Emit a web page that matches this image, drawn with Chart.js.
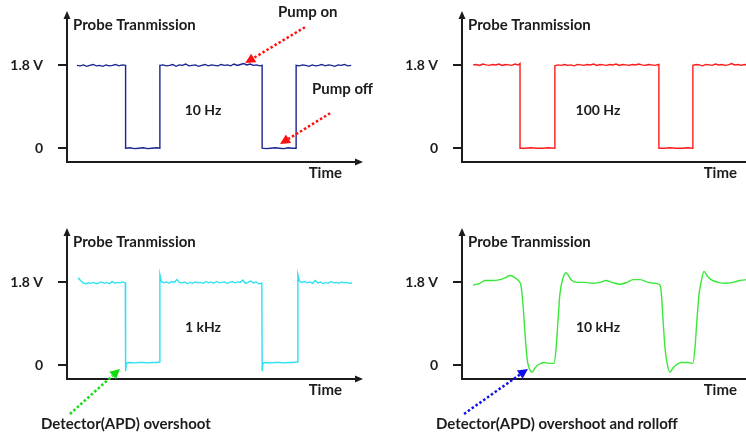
<!DOCTYPE html>
<html>
<head>
<meta charset="utf-8">
<script src="https://cdn.jsdelivr.net/npm/chart.js@4.4.0/dist/chart.umd.min.js"></script>
<style>
  html, body { margin: 0; padding: 0; background: #fff; overflow: hidden; width: 746px; height: 435px; }
  canvas { position: absolute; }
</style>
</head>
<body>
<canvas id="p10Hz" width="373" height="218" style="left:0;top:0"></canvas>
<canvas id="p100Hz" width="400" height="218" style="left:373px;top:0"></canvas>
<canvas id="p1kHz" width="373" height="218" style="left:0;top:217px"></canvas>
<canvas id="p10kHz" width="400" height="218" style="left:373px;top:217px"></canvas>
<script>
// y ticks
const tickValues = [0, 1.8];
const tickLabels = ['0', '1.8 V'];

// [time, volts] (time in arbitrary units 0-100)
const trace10Hz = [
  [3.4,1.80],[4.5,1.79],[5.6,1.81],[6.7,1.78],[7.8,1.80],[8.9,1.82],[10.0,1.79],[11.1,1.80],[12.2,1.78],[13.3,1.81],[14.4,1.79],[15.5,1.80],[16.6,1.82],[17.7,1.79],[18.8,1.81],[20.0,1.80],
  [20.0,0.00],[21.5,0.01],[23.0,-0.01],[24.5,0.00],[26.0,0.01],[27.5,-0.01],[29.0,0.00],[30.5,0.01],[31.7,0.00],
  [31.7,1.80],[32.8,1.81],[33.9,1.79],[35.0,1.80],[36.1,1.82],[37.2,1.78],[38.3,1.81],[39.4,1.80],[40.5,1.83],[41.6,1.79],[42.7,1.80],[43.8,1.81],[44.9,1.78],[46.0,1.80],[47.1,1.82],[48.2,1.79],[49.3,1.81],[50.4,1.80],[51.5,1.79],[52.6,1.82],[53.7,1.80],[54.8,1.81],[55.9,1.79],[57.0,1.83],[58.1,1.80],[59.2,1.82],[60.3,1.84],[61.4,1.81],[62.5,1.83],[63.6,1.80],[64.7,1.81],[65.8,1.79],[66.6,1.80],
  [66.6,0.00],[68.0,-0.01],[69.5,0.00],[71.0,0.01],[72.5,0.00],[74.0,-0.01],[75.5,0.01],[77.0,0.00],[78.2,0.00],
  [78.2,1.80],[79.3,1.79],[80.4,1.81],[81.5,1.80],[82.6,1.78],[83.7,1.81],[84.8,1.79],[85.9,1.80],[87.0,1.82],[88.1,1.79],[89.2,1.81],[90.3,1.80],[91.4,1.78],[92.5,1.81],[93.6,1.80],[94.7,1.82],[95.8,1.79],[97.0,1.80]
];

const trace100Hz = [
  [3.8,1.81],[4.9,1.82],[6.0,1.80],[7.1,1.83],[8.2,1.81],[9.3,1.80],[10.4,1.82],[11.5,1.81],[12.6,1.83],[13.7,1.80],[14.8,1.82],[15.9,1.81],[17.0,1.80],[18.1,1.83],[19.2,1.81],[19.8,1.84],
  [19.8,0.00],[21.5,0.00],[23.5,0.01],[25.5,0.00],[27.5,0.00],[29.5,0.01],[31.7,0.00],
  [31.7,1.79],[32.8,1.81],[33.9,1.80],[35.0,1.82],[36.1,1.80],[37.2,1.81],[38.3,1.79],[39.4,1.82],[40.5,1.81],[41.6,1.80],[42.7,1.82],[43.8,1.81],[44.9,1.83],[46.0,1.80],[47.1,1.82],[48.2,1.81],[49.3,1.80],[50.4,1.82],[51.5,1.81],[52.6,1.83],[53.7,1.80],[54.8,1.82],[55.9,1.81],[57.0,1.80],[58.1,1.82],[59.2,1.81],[60.3,1.83],[61.4,1.81],[62.5,1.80],[63.6,1.82],[64.7,1.81],[65.8,1.80],[67.2,1.82],
  [67.2,0.00],[69.0,0.00],[71.0,0.01],[73.0,0.00],[75.0,0.00],[77.0,0.01],[78.8,0.00],
  [78.8,1.80],[79.9,1.82],[81.0,1.81],[82.1,1.79],[83.2,1.82],[84.3,1.81],[85.4,1.80],[86.5,1.83],[87.6,1.81],[88.7,1.82],[89.8,1.80],[90.9,1.81],[92.0,1.84],[93.1,1.81],[94.2,1.82],[95.3,1.80],[96.4,1.82],[97.5,1.81],[98.6,1.83],[100,1.81]
];

const trace1kHz = [
  [3.8,1.90],[4.6,1.84],[5.5,1.79],[6.4,1.77],[7.3,1.79],[8.2,1.78],[9.1,1.80],[10.0,1.77],[10.9,1.79],[11.8,1.81],[12.7,1.78],[13.6,1.80],[14.5,1.77],[15.4,1.82],[16.3,1.78],[17.2,1.80],[18.1,1.79],[19.0,1.81],[19.9,1.79],
  [20.0,-0.13],[20.3,0.05],[21.5,0.06],[23.0,0.05],[24.5,0.06],[26.0,0.06],[27.5,0.05],[29.0,0.06],[30.5,0.06],[31.6,0.07],
  [31.7,1.97],[32.2,1.82],[33.0,1.79],[33.9,1.81],[34.8,1.78],[35.7,1.82],[36.6,1.80],[37.5,1.86],[38.4,1.80],[39.3,1.79],[40.2,1.81],[41.1,1.77],[42.0,1.80],[42.9,1.78],[43.8,1.81],[44.7,1.79],[45.6,1.80],[46.5,1.78],[47.4,1.82],[48.3,1.79],[49.2,1.81],[50.1,1.78],[51.0,1.82],[51.9,1.79],[52.8,1.80],[53.7,1.81],[54.6,1.78],[55.5,1.80],[56.4,1.82],[57.3,1.79],[58.2,1.81],[59.1,1.80],[60.0,1.85],[60.9,1.78],[61.8,1.80],[62.7,1.83],[63.6,1.79],[64.5,1.81],[65.4,1.77],[66.5,1.78],
  [66.6,-0.13],[66.9,0.05],[68.0,0.06],[69.5,0.05],[71.0,0.06],[72.5,0.06],[74.0,0.05],[75.5,0.06],[77.0,0.06],[78.7,0.07],
  [78.8,1.97],[79.3,1.83],[80.2,1.80],[81.1,1.82],[82.0,1.79],[82.9,1.81],[83.8,1.78],[84.7,1.84],[85.6,1.79],[86.5,1.81],[87.4,1.77],[88.3,1.80],[89.2,1.78],[90.1,1.82],[91.0,1.79],[91.9,1.80],[92.8,1.78],[93.7,1.81],[94.6,1.79],[95.5,1.80],[96.4,1.78],[97.3,1.79]
];

const trace10kHz = [
  [3.75,1.74],[6.1,1.78],[7.8,1.84],[10.2,1.84],[13.0,1.86],[14.7,1.90],[16.4,1.95],[18.1,1.90],[19.5,1.82],[20.1,1.74],
  [20.8,1.33],[21.5,0.69],[22.2,0.15],[22.9,-0.06],[23.9,-0.15],[24.9,-0.06],[26.3,0.02],[28.0,0.06],[29.7,0.04],[31.4,0.04],
  [32.1,0.36],[32.8,1.00],[33.4,1.54],[34.5,1.90],[35.5,2.01],[36.5,1.93],[37.5,1.84],[39.6,1.80],[42.0,1.80],[44.4,1.78],
  [47.1,1.80],[49.1,1.84],[51.2,1.80],[53.9,1.76],[56.3,1.80],[58.4,1.86],[60.8,1.86],[63.5,1.80],[65.9,1.78],[67.2,1.76],
  [67.9,1.65],[68.6,1.00],[69.3,0.36],[70.0,0.04],[71.0,-0.15],[72.0,-0.06],[73.4,0.02],[74.7,0.06],[76.8,0.06],[78.8,0.04],
  [79.5,0.36],[80.2,1.00],[80.9,1.54],[81.9,1.90],[82.6,2.04],[83.6,1.95],[85.0,1.86],[87.4,1.80],[90.1,1.78],[92.5,1.80],
  [94.9,1.84],[97.6,1.86]
];

const INK = '#1c1c1c';
const FONT = 'Lato, "Open Sans", sans-serif';

function decor(p) {
  return {
    id: 'decor',
    afterDraw(chart) {
      const ctx = chart.ctx, a = chart.chartArea;
      const xs = chart.scales.x, ys = chart.scales.y;
      ctx.save();
      // axis arrowheads
      ctx.fillStyle = INK;
      ctx.beginPath();
      ctx.moveTo(a.left, a.top - 7);
      ctx.lineTo(a.left - 3.5, a.top + 1);
      ctx.lineTo(a.left + 3.5, a.top + 1);
      ctx.closePath(); ctx.fill();
      ctx.beginPath();
      ctx.moveTo(a.right + 3, a.bottom);
      ctx.lineTo(a.right - 5, a.bottom - 3.5);
      ctx.lineTo(a.right - 5, a.bottom + 3.5);
      ctx.closePath(); ctx.fill();

      ctx.textBaseline = 'alphabetic';
      ctx.font = 'bold 15px ' + FONT;
      ctx.textAlign = 'left';
      ctx.fillText('Probe Tranmission', a.left + 6, 30);
      ctx.textAlign = 'right';
      ctx.fillText('Time', a.left + 275, 178);
      ctx.font = 'bold 14px ' + FONT;
      ctx.textAlign = 'center';
      ctx.fillText(p.freq, a.left + 136, 115);

      ctx.font = 'bold 15px ' + FONT;
      ctx.textAlign = 'left';
      p.notes.forEach(n => ctx.fillText(n.text, n.x, n.y));

      // dotted annotation arrows, anchored in data units
      p.arrows.forEach(ar => {
        const x0 = xs.getPixelForValue(ar.from[0]), y0 = ys.getPixelForValue(ar.from[1]);
        const x1 = xs.getPixelForValue(ar.to[0]), y1 = ys.getPixelForValue(ar.to[1]);
        const ang = Math.atan2(y1 - y0, x1 - x0);
        const hl = 10, hw = 5;
        const bx = x1 - hl * Math.cos(ang), by = y1 - hl * Math.sin(ang);
        ctx.strokeStyle = ar.color;
        ctx.fillStyle = ar.color;
        ctx.lineWidth = 2.5;
        ctx.setLineDash([2.5, 2.2]);
        ctx.beginPath(); ctx.moveTo(x0, y0); ctx.lineTo(bx, by); ctx.stroke();
        ctx.setLineDash([]);
        ctx.beginPath();
        ctx.moveTo(x1, y1);
        ctx.lineTo(bx + hw * Math.sin(ang), by - hw * Math.cos(ang));
        ctx.lineTo(bx - hw * Math.sin(ang), by + hw * Math.cos(ang));
        ctx.closePath(); ctx.fill();
      });
      ctx.restore();
    }
  };
}

function makePanel(id, trace, color, axisLeft, p) {
  const canvas = document.getElementById(id);
  const W = canvas.width, H = canvas.height;
  new Chart(canvas, {
    type: 'line',
    data: {
      datasets: [{
        data: trace.map(d => ({ x: d[0], y: d[1] })),
        borderColor: color,
        borderWidth: 1.4,
        pointRadius: 0,
        fill: false,
        tension: p.smooth ? 0.4 : 0,
        cubicInterpolationMode: p.smooth ? 'monotone' : 'default'
      }]
    },
    options: {
      responsive: false,
      animation: false,
      devicePixelRatio: 1,
      layout: { padding: { top: 18, left: 0, bottom: 0, right: W - axisLeft - 293 } },
      plugins: { legend: { display: false }, tooltip: { enabled: false } },
      scales: {
        x: {
          type: 'linear', min: 0, max: 100,
          ticks: { display: false },
          grid: { display: false },
          border: { display: true, color: INK, width: 2 },
          afterFit: s => { s.height = H - 162; s.paddingLeft = 0; s.paddingRight = 0; }
        },
        y: {
          min: -0.3, max: 2.83,
          afterBuildTicks: s => { s.ticks = tickValues.map(v => ({ value: v })); },
          ticks: {
            callback: (v, i) => tickLabels[i],
            color: INK,
            font: { family: FONT, size: 14, weight: 'bold' },
            padding: 15
          },
          grid: { drawOnChartArea: false, tickLength: 9, color: INK, lineWidth: 2 },
          border: { display: true, color: INK, width: 2 },
          afterFit: s => { s.width = axisLeft; s.paddingTop = 0; s.paddingBottom = 0; }
        }
      }
    },
    plugins: [decor(p)]
  });
}

makePanel('p10Hz', trace10Hz, '#1b2492', 67, {
  freq: '10 Hz',
  notes: [{ text: 'Pump on', x: 278, y: 17 }, { text: 'Pump off', x: 312, y: 94 }],
  arrows: [
    { from: [81.2, 2.63], to: [60.8, 1.85], color: '#ff1010' },
    { from: [89.8, 0.76], to: [72.7, 0.09], color: '#ff1010' }
  ]
});
makePanel('p100Hz', trace100Hz, '#ff1a1a', 89, { freq: '100 Hz', notes: [], arrows: [] });
makePanel('p1kHz', trace1kHz, '#2ee0f0', 67, {
  freq: '1 kHz',
  notes: [{ text: 'Detector(APD) overshoot', x: 41, y: 212 }],
  arrows: [{ from: [1.0, -1.06], to: [18.1, -0.08], color: '#10dd10' }]
});
makePanel('p10kHz', trace10kHz, '#3ae83a', 89, {
  freq: '10 kHz',
  smooth: true,
  notes: [{ text: 'Detector(APD) overshoot and rolloff', x: 63, y: 212 }],
  arrows: [{ from: [0.7, -1.06], to: [22.5, -0.08], color: '#1010ee' }]
});
</script>
</body>
</html>
